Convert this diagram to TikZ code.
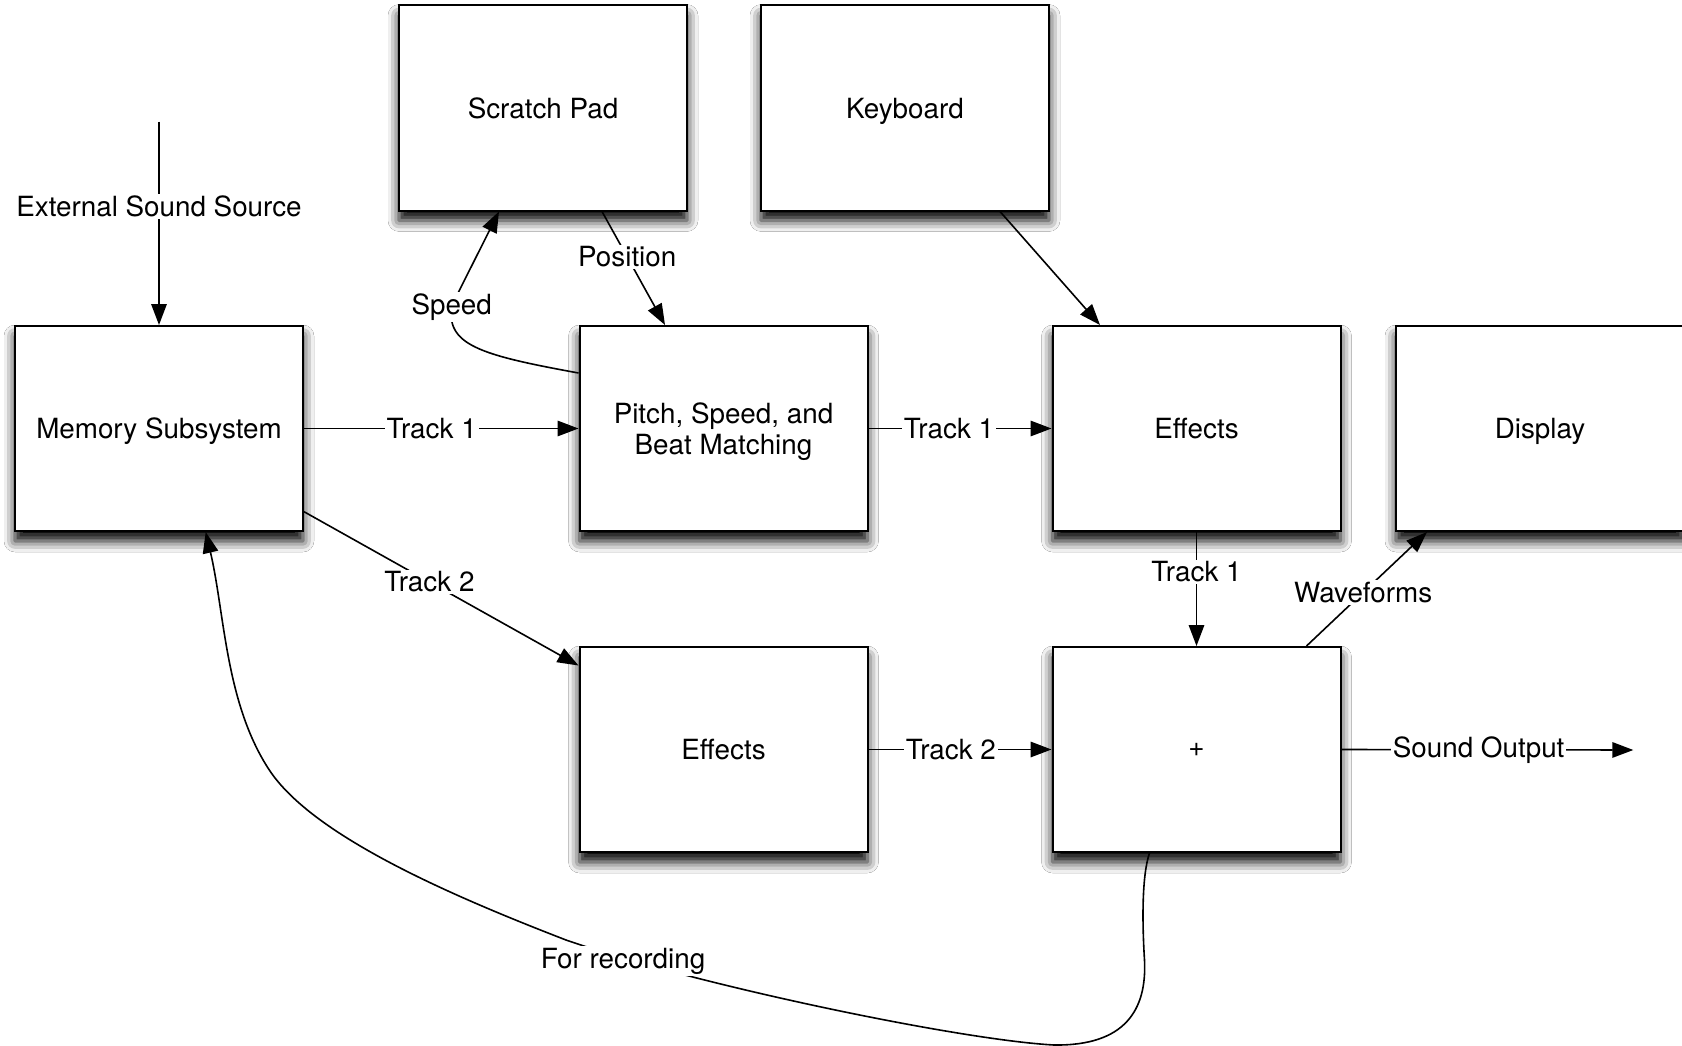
\documentclass[tikz,border=0pt]{standalone}
\usepackage{fontspec}
\setmainfont{TeX Gyre Heros}
\usetikzlibrary{arrows.meta,shadows.blur,calc}
\begin{document}
\begin{tikzpicture}[x=1pt,y=-1pt,
  box/.style={draw=black, line width=2pt, fill=white, minimum width=288pt, minimum height=205pt,
    inner sep=0pt, align=center, text depth=0pt, font=\fontsize{27.8}{31.7}\selectfont,
    blur shadow={shadow xshift=0pt, shadow yshift=-10pt, shadow blur radius=11pt, shadow opacity=100}},
  conn/.style={line width=1.6pt, -{Triangle[length=21pt,width=15.5pt]}},
  lbl/.style={fill=white, inner sep=2pt, font=\fontsize{27.8}{31.7}\selectfont}
]
\useasboundingbox (0,0) rectangle (1682,1046);
\fill[white] (0,0) rectangle (1682,1046);

\node[box] (scratch) at (543,108) {Scratch Pad};
\node[box] (keyboard) at (905,108) {Keyboard};
\node[box] (mem) at (159,428.5) {Memory Subsystem};
\node[box] (pitch) at (723.5,428.5) {Pitch, Speed, and\\Beat Matching};
\node[box] (eff1) at (1196.5,428.5) {Effects};
\node[box] (display) at (1540,428.5) {Display};
\node[box] (eff2) at (723.5,749.5) {Effects};
\node[box] (plus) at (1196.5,749.5) {+};

\coordinate (ext) at (159,121.7);
\draw[conn] (ext) -- node[lbl,pos=0.416] (lext) {External Sound Source} (mem.north);

\draw[conn] (mem.east) -- node[lbl,pos=0.465] (lt1a) {Track 1} (pitch.west);
\draw[conn] ($(mem.east)+(0,83.2)$) -- node[lbl,pos=0.457] (lt2a) {Track 2} ($(eff2.west)+(0,-84)$);
\draw[conn] (pitch.east) -- node[lbl,pos=0.44] (lt1b) {Track 1} (eff1.west);
\draw[conn] (eff2.east) -- node[lbl,pos=0.45] (lt2b) {Track 2} (plus.west);
\draw[conn] (eff1.south) -- node[lbl,pos=0.35] (lt1c) {Track 1} (plus.north);
\draw[conn] ($(plus.north)+(110,0)$) -- node[lbl,pos=0.47] (lwave) {Waveforms} ($(display.south west)+(32,0)$);
\coordinate (sndout) at (1633.3,750);
\draw[conn] (plus.east) -- node[lbl,pos=0.47] (lsnd) {Sound Output} (sndout);
\draw[conn] ($(keyboard.south)+(95,0)$) -- ($(eff1.north)+(-96.5,0)$);
\draw[conn] ($(scratch.south)+(59,0)$) -- node[lbl,pos=0.4] (lpos) {Position} ($(pitch.north)+(-58.5,0)$);

\draw[conn] ($(pitch.west)+(0,-55.5)$) .. controls (480,355) and (445,345) .. (452,305) -- ($(scratch.south)+(-44,0)$);
\node[lbl] (lspeed) at (451.7,307) {Speed};

\coordinate (rs) at ($(plus.south)+(-47,0)$);
\coordinate (re) at ($(mem.south)+(46.7,0)$);
\draw[conn] (rs) .. controls (1142,875) and (1142,920) .. (1144.5,960)
  .. controls (1147,1010) and (1125,1046) .. (1054,1045)
  .. controls (960,1040) and (696,985) .. (566,940)
  .. controls (454.4,896.8) and (313.3,836.8) .. (269.3,770)
  .. controls (225.3,703.2) and (224.7,612.7) .. (re);
\node[lbl] (lrec) at (623,961) {For recording};
\end{tikzpicture}
\end{document}
